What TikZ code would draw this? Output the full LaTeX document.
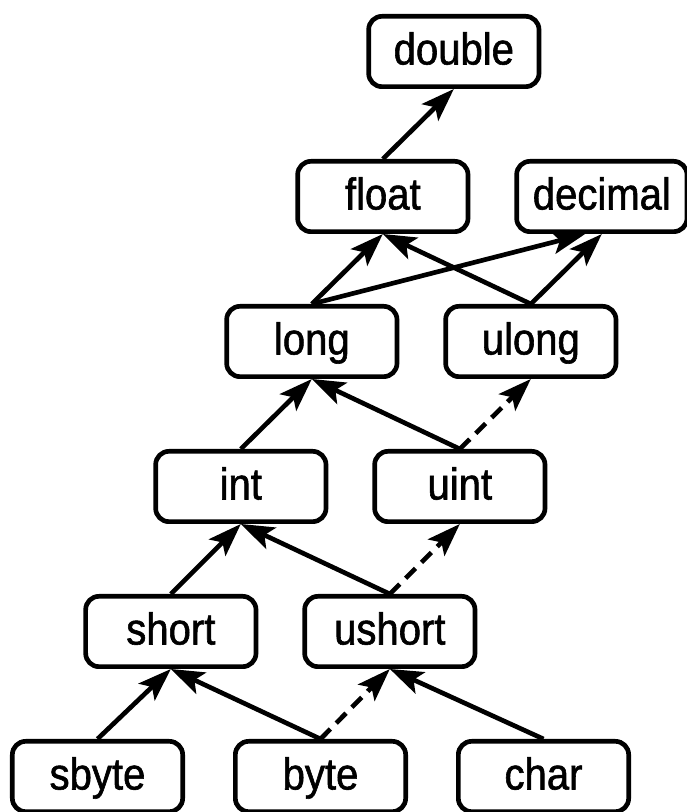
\documentclass[tikz,border=0pt]{standalone}
\usepackage{fontspec}
\setmainfont{Liberation Sans}
\newfontfamily\boxfont{Liberation Sans}[FakeBold=1.3, FakeStretch=0.9]
\usepackage{tikz}
\usetikzlibrary{arrows.meta, positioning}

\begin{document}
\begin{tikzpicture}[
    node distance=2.1cm and 1.32cm,
    box/.style={rectangle, draw, line width=0.14cm, rounded corners=0.4cm, minimum width=5.11cm, minimum height=2.11cm, text height=0.95cm, text depth=0.17cm, align=center, font=\boxfont\fontsize{38}{44}\selectfont},
    arrow/.style={-{Stealth[length=1cm, width=0.7cm, inset=0.22cm]}, line width=0.14cm},
    dasharrow/.style={arrow, dash pattern=on 0.42cm off 0.25cm}
]

% Margins
\useasboundingbox (-2.925,-1.065) rectangle (17.685,23.295);

% Nodes
\node[box] (sbyte) {sbyte};
\node[box, right=1.44cm of sbyte] (byte) {byte};
\node[box, right=1.44cm of byte] (char) {char};
\node[box, above=of sbyte, xshift=2.2cm] (short) {short};
\node[box, right=of short] (ushort) {ushort};
\node[box, above=of short, xshift=2.1cm] (int) {int};
\node[box, right=of int] (uint) {uint};
\node[box, above=of int, xshift=2.13cm] (long) {long};
\node[box, right=of long] (ulong) {ulong};
\node[box, above=of long, xshift=2.13cm] (float) {float};
\node[box, right=of float] (decimal) {decimal};
\node[box, above=of float, xshift=2.13cm] (double) {double};

% Arrows
\draw[arrow] (sbyte.north) -- (short.south);
\draw[arrow] (byte.north) -- (short.south);
\draw[dasharrow] (byte.north) -- (ushort.south);
\draw[arrow] (char.north) -- (ushort.south);
\draw[arrow] (short.north) -- (int.south);
\draw[arrow] (ushort.north) -- (int.south);
\draw[dasharrow] (ushort.north) -- (uint.south);
\draw[arrow] (int.north) -- (long.south);
\draw[arrow] (uint.north) -- (long.south);
\draw[dasharrow] (uint.north) -- (ulong.south);
\draw[arrow] (long.north) -- (float.south);
\draw[arrow] (long.north) -- ([xshift=-0.5cm]decimal.south);
\draw[arrow] (ulong.north) -- (float.south);
\draw[arrow] (ulong.north) -- (decimal.south);
\draw[arrow] (float.north) -- (double.south);

\end{tikzpicture}
\end{document}
